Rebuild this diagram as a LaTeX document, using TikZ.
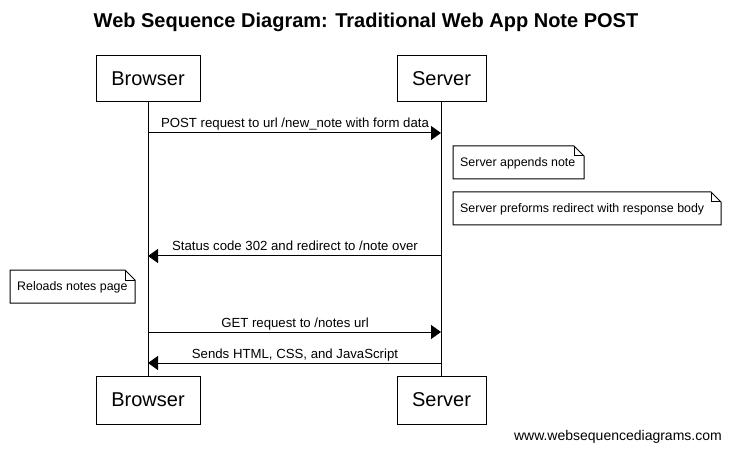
\documentclass[tikz,border=0pt]{standalone}
\usepackage{fontspec}
\setmainfont{Liberation Sans}
\usetikzlibrary{arrows.meta}
\begin{document}
\begin{tikzpicture}[x=1pt,y=-1pt,
  actor/.style={draw=black,line width=1pt,fill=white,minimum width=104pt,minimum height=46pt,inner sep=0pt,font=\fontsize{20}{24}\selectfont},
  life/.style={line width=1pt},
  msg/.style={line width=1pt,-{Triangle[length=10pt,width=14pt]}},
  lbl/.style={font=\fontsize{13.2}{15}\selectfont,anchor=base,inner sep=0pt},
  notebox/.style={draw=black,line width=1pt,fill=white},
  notetxt/.style={font=\fontsize{12.4}{15}\selectfont,anchor=west,inner sep=0pt}]
\useasboundingbox (0,0) rectangle (731,449);
\fill[white] (0,0) rectangle (731,449);
\node[font=\bfseries\fontsize{20}{24}\selectfont] (title) at (366,22) {Web Sequence Diagram: Traditional Web App Note POST};
% lifelines
\coordinate (bt) at (148,102); \coordinate (bb) at (148,376);
\coordinate (st) at (441,102); \coordinate (sb) at (441,376);
\draw[life] (bt) -- (bb);
\draw[life] (st) -- (sb);
% actors
\node[actor,minimum width=104pt] (b1) at (148,79) {Browser};
\node[actor,minimum width=89pt] (s1) at (441.5,79) {Server};
\node[actor,minimum width=104pt,minimum height=48pt] (b2) at (148,400) {Browser};
\node[actor,minimum width=89pt,minimum height=48pt] (s2) at (441.5,400) {Server};
% message 1
\coordinate (m1a) at (148,133); \coordinate (m1b) at (441,133);
\draw[msg] (m1a) -- (m1b);
\node[lbl] (l1) at (295,128) {POST request to url /new\_note with form data};
% note 1
\draw[notebox] (453,146) -- (574,146) -- (584,156) -- (584,179) -- (453,179) -- cycle;
\draw[line width=1pt] (574,146) -- (574,156) -- (584,156);
\node[notetxt] (n1) at (460,163) {Server appends note};
% note 2
\draw[notebox] (453,192) -- (711,192) -- (721,202) -- (721,225) -- (453,225) -- cycle;
\draw[line width=1pt] (711,192) -- (711,202) -- (721,202);
\node[notetxt] (n2) at (460,209.5) {Server preforms redirect with response body};
% message 2
\coordinate (m2a) at (441,256); \coordinate (m2b) at (148,256);
\draw[msg] (m2a) -- (m2b);
\node[lbl] (l2) at (295,251) {Status code 302 and redirect to /note over};
% note 3
\draw[notebox] (10,270) -- (125,270) -- (135,280) -- (135,303) -- (10,303) -- cycle;
\draw[line width=1pt] (125,270) -- (125,280) -- (135,280);
\node[notetxt] (n3) at (17,287.5) {Reloads notes page};
% message 3
\coordinate (m3a) at (148,332); \coordinate (m3b) at (441,332);
\draw[msg] (m3a) -- (m3b);
\node[lbl] (l3) at (295,327) {GET request to /notes url};
% message 4
\coordinate (m4a) at (441,363); \coordinate (m4b) at (148,363);
\draw[msg] (m4a) -- (m4b);
\node[lbl] (l4) at (295,358) {Sends HTML, CSS, and JavaScript};
% footer
\node[font=\fontsize{14}{16}\selectfont,anchor=base east,inner sep=0pt] (foot) at (722,440) {www.websequencediagrams.com};
\end{tikzpicture}
\end{document}
